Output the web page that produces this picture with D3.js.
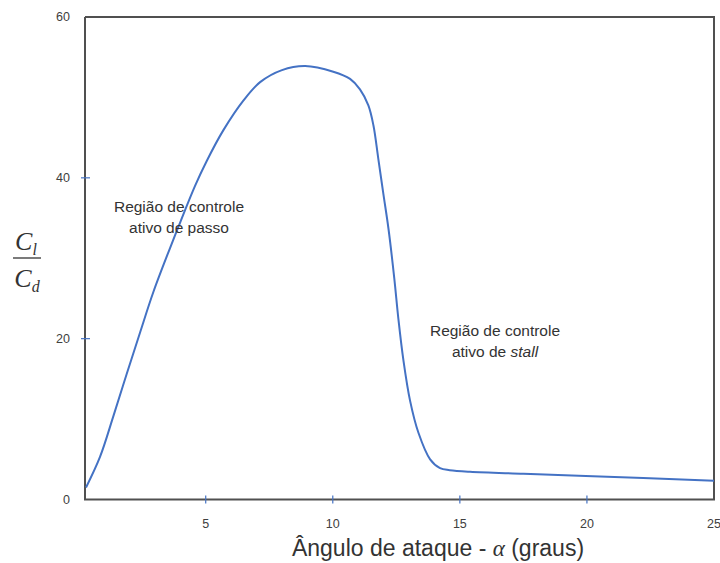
<!DOCTYPE html>
<html>
<head>
<meta charset="utf-8">
<script src="https://cdn.jsdelivr.net/npm/d3@7"></script>
<style>
  body { margin: 0; background: #fff; }
</style>
</head>
<body>
<svg id="chart" width="720" height="563"></svg>
<script>
// angle of attack (degrees) and Cl/Cd
var alpha = [0.29, 0.84, 1.37, 1.89, 2.42, 2.94, 3.6, 4.0, 4.58, 5.04, 5.69, 6.48, 7.14, 8.0, 8.91,
  10.02, 10.68, 11.07, 11.4, 11.6, 11.79, 11.99, 12.19, 12.42, 12.58, 12.78, 13.04, 13.37, 13.83, 14.22,
  14.6, 15.4, 17.5, 19.95, 25];
var clcd = [1.5, 5.3, 10.4, 15.6, 20.8, 25.8, 31.3, 34.5, 39.0, 42.1, 45.9, 49.6, 51.9, 53.4, 53.9,
  53.2, 52.3, 51.0, 49.0, 46.5, 42.4, 38.0, 33.7, 27.5, 22.5, 17.3, 12.3, 8.3, 5.0, 3.9,
  3.65, 3.45, 3.2, 2.92, 2.34];

var xTicks = [5, 10, 15, 20, 25];
var yTicks = [0, 20, 40, 60];

var svg = d3.select("#chart");
var mLeft = 85, mRight = 714, mTop = 17, mBottom = 499.5;

var x = d3.scaleLinear().domain([0.25, 25]).range([mLeft, mRight]);
var y = d3.scaleLinear().domain([0, 60]).range([mBottom, mTop]);

var sans = "'Liberation Sans', Arial, sans-serif";
var serif = "'Liberation Serif', 'DejaVu Serif', serif";
var axisColor = "#505050";
var blue = "#4472c4";
var labelColor = "#404040";

// frame: left, bottom, right, top
svg.append("path")
  .attr("d", "M" + mLeft + "," + mTop + "V" + mBottom + "H" + mRight + "V" + mTop + "H" + mLeft)
  .attr("fill", "none")
  .attr("stroke", axisColor)
  .attr("stroke-width", 2);

// tick marks crossing the axes
svg.selectAll(".xt")
  .data(xTicks.filter(function (d) { return d < 25; }))
  .enter().append("line")
  .attr("x1", function (d) { return x(d); })
  .attr("x2", function (d) { return x(d); })
  .attr("y1", mBottom - 4).attr("y2", mBottom + 4)
  .attr("stroke", blue).attr("stroke-width", 1.2);

svg.selectAll(".yt")
  .data(yTicks.filter(function (d) { return d > 0 && d < 60; }))
  .enter().append("line")
  .attr("y1", function (d) { return y(d); })
  .attr("y2", function (d) { return y(d); })
  .attr("x1", mLeft - 4).attr("x2", mLeft + 5)
  .attr("stroke", blue).attr("stroke-width", 1.2);

// tick labels
svg.selectAll(".xl")
  .data(xTicks)
  .enter().append("text")
  .attr("x", function (d) { return x(d); })
  .attr("y", 528)
  .attr("text-anchor", "middle")
  .style("font-family", sans)
  .style("font-size", "12.5px")
  .attr("fill", labelColor)
  .text(function (d) { return d; });

svg.selectAll(".yl")
  .data(yTicks)
  .enter().append("text")
  .attr("x", 70)
  .attr("y", function (d) { return y(d) + 4; })
  .attr("text-anchor", "end")
  .style("font-family", sans)
  .style("font-size", "12.5px")
  .attr("fill", labelColor)
  .text(function (d) { return d; });

// curve
var line = d3.line()
  .x(function (d) { return x(d[0]); })
  .y(function (d) { return y(d[1]); })
  .curve(d3.curveCatmullRom.alpha(0.5));

svg.append("path")
  .datum(d3.zip(alpha, clcd))
  .attr("d", line)
  .attr("fill", "none")
  .attr("stroke", blue)
  .attr("stroke-width", 2);

// x axis title
var xt = svg.append("text")
  .attr("x", 438)
  .attr("y", 556)
  .attr("text-anchor", "middle")
  .style("font-family", sans)
  .style("font-size", "23px")
  .attr("fill", "#333");
xt.append("tspan").text("Ângulo de ataque - ");
xt.append("tspan").style("font-family", serif).style("font-style", "italic").text("α");
xt.append("tspan").text(" (graus)");

// y axis label as a fraction
function frac(cx, cy, sub) {
  var t = svg.append("text").attr("x", cx).attr("y", cy).attr("text-anchor", "middle")
    .style("font-family", serif).style("font-style", "italic").style("font-size", "26px").attr("fill", "#333");
  t.append("tspan").text("C");
  t.append("tspan").style("font-size", "16px").attr("dy", 5).text(sub);
}
frac(26, 250, "l");
svg.append("line").attr("x1", 13).attr("x2", 41).attr("y1", 258).attr("y2", 258)
  .attr("stroke", "#333").attr("stroke-width", 1.3);
frac(27, 287, "d");

// annotations
function note(cx, cy, rows) {
  var t = svg.append("text").attr("text-anchor", "middle")
    .style("font-family", sans).style("font-size", "15.5px").attr("fill", "#333");
  rows.forEach(function (parts, i) {
    var row = t.append("tspan").attr("x", cx).attr("y", cy + i * 21);
    parts.forEach(function (p) {
      row.append("tspan").style("font-style", p[1] ? "italic" : "normal").text(p[0]);
    });
  });
}
note(179, 212, [[["Região de controle"]], [["ativo de passo"]]]);
note(495, 336, [[["Região de controle"]], [["ativo de "], ["stall", true]]]);
</script>
</body>
</html>
